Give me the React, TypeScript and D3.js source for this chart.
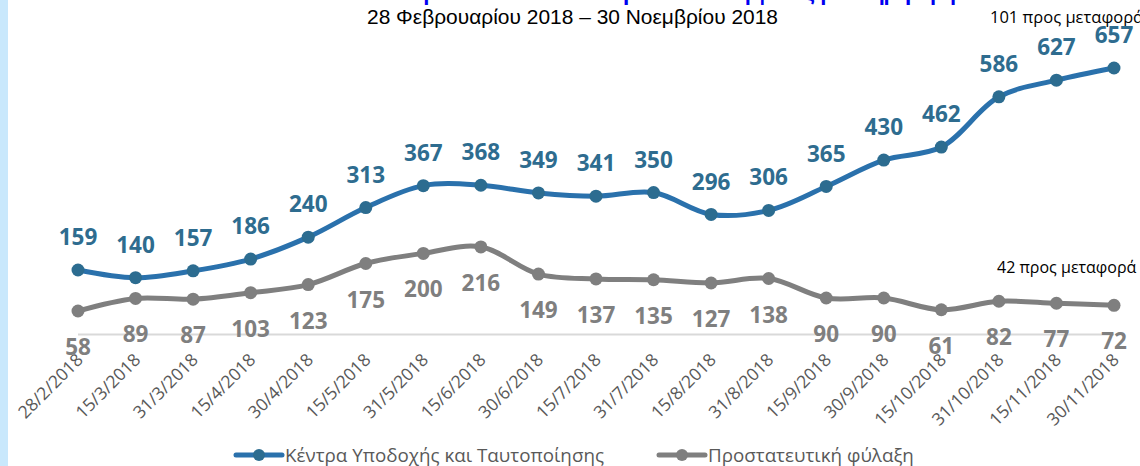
import React from "react";
import * as d3 from "d3";

const categories = [
  "28/2/2018", "15/3/2018", "31/3/2018", "15/4/2018", "30/4/2018", "15/5/2018",
  "31/5/2018", "15/6/2018", "30/6/2018", "15/7/2018", "31/7/2018", "15/8/2018",
  "31/8/2018", "15/9/2018", "30/9/2018", "15/10/2018", "31/10/2018", "15/11/2018",
  "30/11/2018",
];
const kytValues = [159, 140, 157, 186, 240, 313, 367, 368, 349, 341, 350, 296, 306, 365, 430, 462, 586, 627, 657];
const protectiveValues = [58, 89, 87, 103, 123, 175, 200, 216, 149, 137, 135, 127, 138, 90, 90, 61, 82, 77, 72];
const seriesNames = ["Κέντρα Υποδοχής και Ταυτοποίησης", "Προστατευτική φύλαξη"];
const titleText = "Ασυνόδευτα ανήλικα σε ΚΥΤ και σε προστατευτική φύλαξη ανά ημερομηνία";
const subtitleText = "28 Φεβρουαρίου 2018 – 30 Νοεμβρίου 2018";
const noteKyt = "101 προς μεταφορά";
const noteProtective = "42 προς μεταφορά";

const W = 1140;
const H = 466;
const BLUE_LINE = "#2A71AC";
const BLUE_MARK = "#2C6C90";
const BLUE_LABEL = "#2E6C8F";
const GREY = "#7F7F7F";
const FONT = "'Open Sans', 'Liberation Sans', sans-serif";

export default function App() {
  const x = d3.scalePoint<string>().domain(categories).range([78, 1114]);
  const y = d3.scaleLinear().domain([0, 800]).range([334.5, 10]);
  const line = d3
    .line<number>()
    .x((_, i) => x(categories[i]) as number)
    .y((d) => y(d))
    .curve(d3.curveCatmullRom.alpha(0.5));

  const series = [
    { values: kytValues, line: BLUE_LINE, mark: BLUE_MARK, label: BLUE_LABEL, above: true },
    { values: protectiveValues, line: GREY, mark: GREY, label: GREY, above: false },
  ];

  return (
    <svg
      width={W}
      height={H}
      style={{ position: "absolute", left: 0, top: 0, background: "#fff" }}
      fontFamily={FONT}
    >
      <rect x={0} y={0} width={W} height={H} fill="#fff" />
      <rect x={0} y={0} width={8} height={H} fill="#C9E8FC" />
      <text
        x={627}
        y={0}
        textAnchor="middle"
        fontFamily="'Liberation Sans', Arial, sans-serif"
        fontWeight="bold"
        fontSize={22}
        fill="#0000F0"
        textLength={715}
        lengthAdjust="spacing"
      >
        {titleText}
      </text>
      <text
        x={572.5}
        y={24}
        textAnchor="middle"
        fontFamily="'Liberation Sans', Arial, sans-serif"
        fontSize={19.5}
        fill="#000"
        textLength={411}
        lengthAdjust="spacingAndGlyphs"
      >
        {subtitleText}
      </text>
      <text x={990} y={23} fontSize={16.5} fill="#000">{noteKyt}</text>
      <text x={997} y={273} fontSize={16} fill="#000">{noteProtective}</text>

      <line x1={x(categories[0])} x2={x(categories[categories.length - 1])} y1={y(0)} y2={y(0)} stroke="#D9D9D9" strokeWidth={2} />

      {categories.map((c) => (
        <text
          key={c}
          transform={`translate(${(x(c) as number) + 6},${361}) rotate(-45)`}
          textAnchor="end"
          fontSize={17.5}
          fill="#595959"
        >
          {c}
        </text>
      ))}

      {series.map((s, si) => (
        <g key={si}>
          <path d={line(s.values) || ""} fill="none" stroke={s.line} strokeWidth={5} strokeLinecap="round" strokeLinejoin="round" />
          {s.values.map((v, i) => (
            <circle key={i} cx={x(categories[i])} cy={y(v)} r={6.5} fill={s.mark} />
          ))}
          {s.values.map((v, i) => (
            <text
              key={"l" + i}
              x={x(categories[i])}
              y={s.above ? y(v) - 33 : y(v) + 36}
              dy="0.36em"
              textAnchor="middle"
              fontWeight="bold"
              fontSize={22.5}
              fill={s.label}
            >
              {v}
            </text>
          ))}
        </g>
      ))}

      {[
        { name: seriesNames[0], color: BLUE_LINE, mark: BLUE_MARK, x0: 236 },
        { name: seriesNames[1], color: GREY, mark: GREY, x0: 659 },
      ].map((l) => (
        <g key={l.name}>
          <line x1={l.x0} x2={l.x0 + 46} y1={455} y2={455} stroke={l.color} strokeWidth={5} strokeLinecap="round" />
          <circle cx={l.x0 + 23} cy={455} r={6} fill={l.mark} />
          <text x={l.x0 + 49} y={455} dy="0.35em" fontSize={18.8} fill="#595959">
            {l.name}
          </text>
        </g>
      ))}
    </svg>
  );
}
